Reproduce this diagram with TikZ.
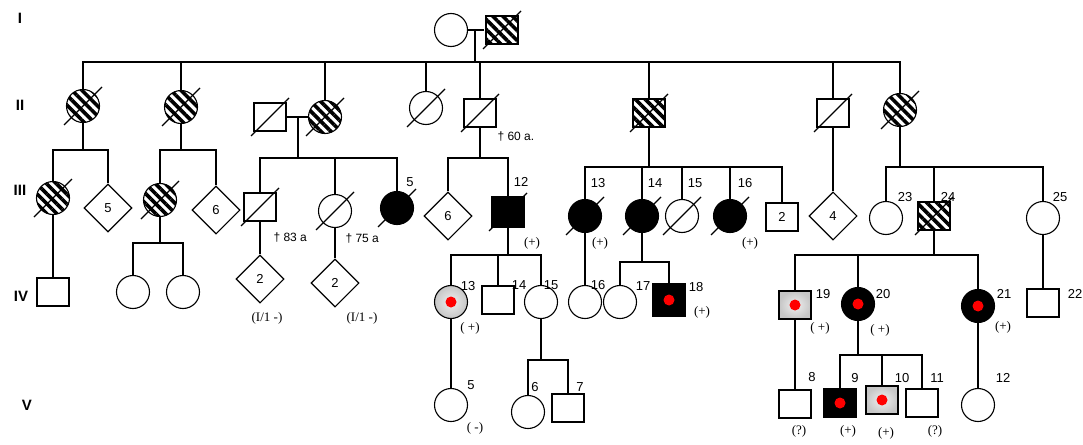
\documentclass[tikz,border=0pt]{standalone}
\usepackage{fontspec}
\setmainfont{Liberation Sans}
\newfontfamily\parfont{Liberation Serif}
\usetikzlibrary{shapes.geometric,patterns.meta}

% diagonal line through a deceased individual
\newcommand\deceased[1]{\draw ([shift={(-19pt,-19pt)}]#1.center) -- ([shift={(19pt,19pt)}]#1.center);}
% red marker inside a tested symbol
\newcommand\reddot[1]{\fill[red] (#1.center) circle[radius=5.5pt];}

\begin{document}
\begin{tikzpicture}[x=1pt,y=-1pt,line width=1.1pt,
  male/.style={draw,rectangle,minimum width=32pt,minimum height=28pt,inner sep=0pt},
  female/.style={draw,circle,minimum size=33pt,inner sep=0pt},
  unknown/.style={draw,diamond,minimum width=48pt,minimum height=48pt,inner sep=0pt,font=\fontsize{13}{13}\selectfont},
  hatch/.style={pattern={Lines[angle=-45,distance=7pt,line width=3.6pt]}},
  aff/.style={fill=black},
  grayfill/.style={inner color=gray!12,outer color=gray!45},
  num/.style={inner sep=0pt,font=\fontsize{13}{13}\selectfont},
  gen/.style={inner sep=0pt,font=\fontsize{15}{15}\selectfont\bfseries},
  res/.style={inner sep=0pt,font=\fontsize{13}{13}\selectfont\parfont},
  age/.style={inner sep=0pt,font=\fontsize{12}{12}\selectfont}
]
\useasboundingbox (0,0) rectangle (1083,444);

% generation numerals
\node[gen] (gI) at (20,18) {I};
\node[gen] (gII) at (20,105) {II};
\node[gen] (gIII) at (20,190) {III};
\node[gen] (gIV) at (21,296) {IV};
\node[gen] (gV) at (27,405) {V};

% ---------- generation I ----------
\node[female] (I1) at (451,30) {};
\node[male,hatch] (I2) at (502,30) {};
\deceased{I2}
\draw (I1.east) -- (I2.west);
\coordinate (mI) at (475,30);
\coordinate (sI) at (475,62);
\draw (mI) -- (sI);

% ---------- generation II ----------
\node[female,hatch] (II1) at (83,106) {};
\node[female,hatch] (II2) at (181,107) {};
\node[male] (II3) at (270,117) {};
\node[female,hatch] (II4) at (325,117) {};
\node[female] (II5) at (426,108) {};
\node[male] (II6) at (480,113) {};
\node[male,hatch] (II7) at (649,113) {};
\node[male] (II8) at (833,113) {};
\node[female,hatch] (II9) at (900,110) {};
\foreach \n in {II1,II2,II3,II4,II5,II6,II7,II8,II9} {\deceased{\n}}
\node[age,anchor=west] (d60) at (497,137) {† 60 a.};

\draw (II1.north) |- (II9.north |- sI) -- (II9.north);
\foreach \n in {II2,II4,II5,II6,II7,II8} {\draw (\n.north) -- (\n.north |- sI);}

\draw (II3.east) -- (II4.west);
\coordinate (mII) at (298,117);

% ---------- generation III ----------
\node[female,hatch] (III1) at (53,198) {};
\node[unknown] (III2) at (108,208) {5};
\node[female,hatch] (III3) at (160,200) {};
\node[unknown] (III4) at (216,210) {6};
\node[male] (III5) at (260,207) {};
\node[female] (III6) at (335,211) {};
\node[female,aff] (III7) at (397,208) {};
\node[unknown] (III8) at (448,216) {6};
\node[male,aff,minimum height=31pt] (III9) at (508,212) {};
\node[female,aff] (III10) at (585,216) {};
\node[female,aff] (III11) at (642,216) {};
\node[female] (III12) at (682,216) {};
\node[female,aff] (III13) at (730,216) {};
\node[male,num] (III14) at (782,217) {2};
\node[unknown] (III15) at (833,216) {4};
\node[female] (III16) at (886,218) {};
\node[male,hatch] (III17) at (934,216) {};
\node[female] (III18) at (1043,218) {};
\foreach \n in {III1,III3,III5,III6,III7,III9,III10,III11,III12,III13,III17} {\deceased{\n}}

% sibships of generation III
\coordinate (s1) at (83,150);
\draw (II1.south) -- (s1);
\draw (III1.north) |- (s1) -| (III2.north);
\coordinate (s2) at (181,150);
\draw (II2.south) -- (s2);
\draw (III3.north) |- (s2) -| (III4.north);
\coordinate (s3) at (298,158);
\draw (mII) -- (s3);
\draw (III5.north) |- (s3) -| (III7.north);
\draw (III6.north) -- (III6.north |- s3);
\coordinate (s4) at (480,158);
\draw (II6.south) -- (s4);
\draw (III8.north) |- (s4) -| (III9.north);
\coordinate (s5) at (649,167);
\draw (II7.south) -- (s5);
\draw (III10.north) |- (s5) -| (III14.north);
\foreach \n in {III11,III12,III13} {\draw (\n.north) -- (\n.north |- s5);}
\draw (II8.south) -- (III15.north);
\coordinate (s6) at (900,167);
\draw (II9.south) -- (s6);
\draw (III16.north) |- (s6) -| (III18.north);
\draw (III17.north) -- (III17.north |- s6);

% numbers and notes of generation III
\node[num] (l5) at (410,182) {5};
\node[num] (l12) at (521,182) {12};
\node[num] (l13) at (598,183) {13};
\node[num] (l14) at (655,183) {14};
\node[num] (l15) at (695,183) {15};
\node[num] (l16) at (745,183) {16};
\node[num] (l23) at (905,197) {23};
\node[num] (l24) at (948,197) {24};
\node[num] (l25) at (1060,197) {25};
\node[age,anchor=west] (d83) at (273,238) {† 83 a};
\node[age,anchor=west] (d75) at (345,239) {† 75 a};
\node[res] (r12) at (532,243) {(+)};
\node[res] (r13) at (600,243) {(+)};
\node[res] (r16) at (750,243) {(+)};

% ---------- generation IV ----------
\node[male] (IV1) at (53,292) {};
\node[female] (IV2) at (133,292) {};
\node[female] (IV3) at (183,292) {};
\node[unknown] (IV4) at (260,279) {2};
\node[unknown] (IV5) at (335,283) {2};
\node[female,grayfill] (IV6) at (451,302) {};
\node[male] (IV7) at (498,300) {};
\node[female] (IV8) at (541,302) {};
\node[female] (IV9) at (585,302) {};
\node[female] (IV10) at (620,302) {};
\node[male,aff,minimum height=32pt] (IV11) at (669,300) {};
\node[male,grayfill] (IV12) at (795,305) {};
\node[female,aff] (IV13) at (858,304) {};
\node[female,aff] (IV14) at (978,306) {};
\node[male] (IV15) at (1043,303) {};
\foreach \n in {IV6,IV11,IV12,IV13,IV14} {\reddot{\n}}

\draw (III1.south) -- (IV1.north);
\coordinate (s7) at (160,243);
\draw (III3.south) -- (s7);
\draw (IV2.north) |- (s7) -| (IV3.north);
\draw (III5.south) -- (IV4.north);
\draw (III6.south) -- (IV5.north);
\coordinate (s8) at (508,255);
\draw (III9.south) -- (s8);
\draw (IV6.north) |- (s8) -| (IV8.north);
\draw (IV7.north) -- (IV7.north |- s8);
\draw (III10.south) -- (IV9.north);
\coordinate (s9) at (642,262);
\draw (III11.south) -- (s9);
\draw (IV10.north) |- (s9) -| (IV11.north);
\coordinate (s10) at (934,255);
\draw (III17.south) -- (s10);
\draw (IV12.north) |- (s10) -| (IV14.north);
\draw (IV13.north) -- (IV13.north |- s10);
\draw (III18.south) -- (IV15.north);

\node[num] (l13b) at (468,286) {13};
\node[num] (l14b) at (519,285) {14};
\node[num] (l15b) at (551,285) {15};
\node[num] (l16b) at (598,285) {16};
\node[num] (l17) at (643,286) {17};
\node[num] (l18) at (696,287) {18};
\node[num] (l19) at (823,294) {19};
\node[num] (l20) at (883,294) {20};
\node[num] (l21) at (1004,294) {21};
\node[num] (l22) at (1075,294) {22};
\node[res] (q4) at (267,318) {(I/1 -)};
\node[res] (q5) at (362,318) {(I/1 -)};
\node[res] (r13b) at (470,328) {( +)};
\node[res] (r18) at (702,312) {(+)};
\node[res] (r19) at (820,328) {( +)};
\node[res] (r20) at (880,330) {( +)};
\node[res] (r21) at (1003,327) {(+)};

% ---------- generation V ----------
\node[female] (V1) at (451,405) {};
\node[female] (V2) at (528,412) {};
\node[male] (V3) at (568,408) {};
\node[male] (V4) at (795,404) {};
\node[male,aff] (V5) at (840,403) {};
\node[male,grayfill] (V6) at (882,400) {};
\node[male] (V7) at (922,403) {};
\node[female] (V8) at (978,405) {};
\foreach \n in {V5,V6} {\reddot{\n}}

\draw (IV6.south) -- (V1.north);
\coordinate (s11) at (541,360);
\draw (IV8.south) -- (s11);
\draw (V2.north) |- (s11) -| (V3.north);
\draw (IV12.south) -- (V4.north);
\coordinate (s12) at (858,355);
\draw (IV13.south) -- (s12);
\draw (V5.north) |- (s12) -| (V7.north);
\draw (V6.north) -- (V6.north |- s12);
\draw (IV14.south) -- (V8.north);

\node[num] (l5b) at (471,385) {5};
\node[num] (l6) at (535,387) {6};
\node[num] (l7) at (580,387) {7};
\node[num] (l8) at (812,377) {8};
\node[num] (l9) at (855,378) {9};
\node[num] (l10) at (902,378) {10};
\node[num] (l11) at (937,378) {11};
\node[num] (l12b) at (1003,378) {12};
\node[res] (rm5) at (475,428) {( -)};
\node[res] (q8) at (799,431) {(?)};
\node[res] (r9) at (848,431) {(+)};
\node[res] (r10) at (886,433) {(+)};
\node[res] (q11) at (935,431) {(?)};
\end{tikzpicture}
\end{document}
